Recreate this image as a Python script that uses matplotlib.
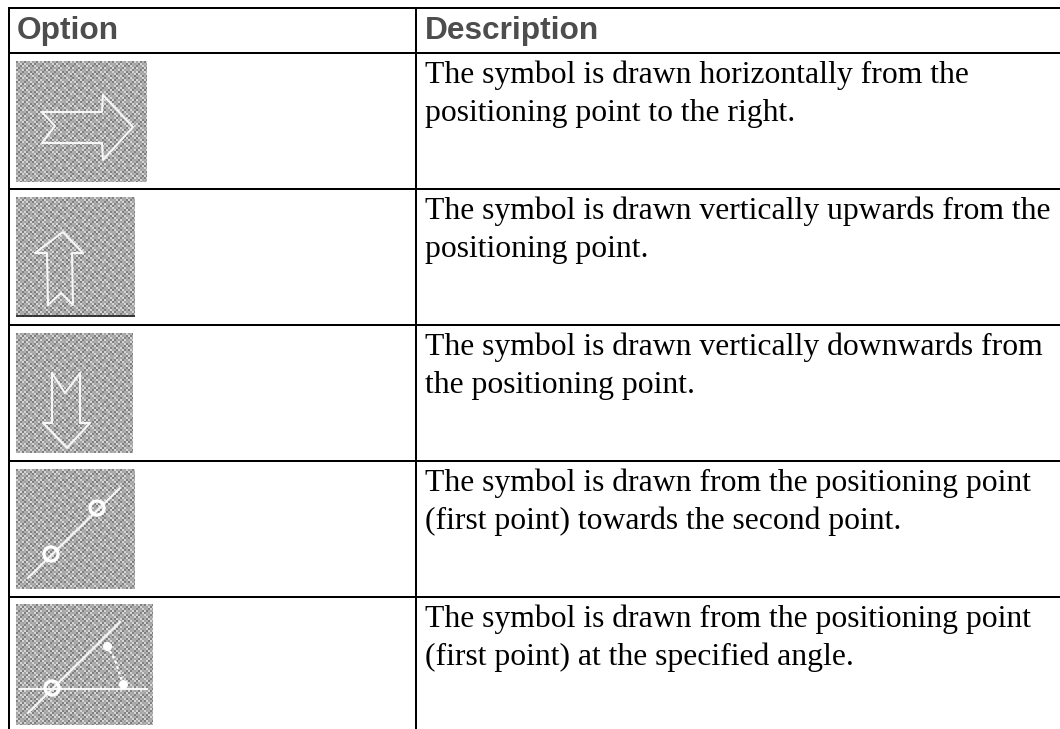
import numpy as np
import matplotlib
matplotlib.use("Agg")
import matplotlib.pyplot as plt

# Constants
W, H = 1060, 729
LINE_W = 2.0 * 72 / 100
HEADER_GREY = "#4d4d4d"
FONT_SIZE = 22.8

# Table contents
headers = ["Option", "Description"]
descriptions = [
    ["The symbol is drawn horizontally from the", "positioning point to the right."],
    ["The symbol is drawn vertically upwards from the", "positioning point."],
    ["The symbol is drawn vertically downwards from", "the positioning point."],
    ["The symbol is drawn from the positioning point", "(first point) towards the second point."],
    ["The symbol is drawn from the positioning point", "(first point) at the specified angle."],
]

# Rules, in image pixels
row_lines = [8, 53, 189, 325, 461, 597]
left_x = 9
mid_x = 416

# Icon boxes: left, top, right, bottom
icon_boxes = [
    (16, 61, 147, 182),
    (16, 197, 135, 317),
    (16, 333, 133, 453),
    (16, 469, 135, 589),
    (16, 604, 153, 725),
]

# Icon strokes, in image pixels
arrow_right = [[(42, 112), (102, 112), (103, 95), (133, 127), (103, 160), (102, 143), (42, 143), (55, 126), (42, 112)]]
arrow_up = [[(48, 305), (47, 253), (35, 253), (63, 232), (83, 253), (72, 253), (73, 305), (61, 293), (48, 305)]]
arrow_down = [[(52, 373), (52, 423), (43, 423), (67, 448), (90, 423), (80, 423), (80, 373), (65, 393), (52, 373)]]
line_two = [[(28, 578), (120, 488)]]
angle_lines = [[(20, 689), (147, 689)], [(28, 713), (120, 622)]]
icon_strokes = [arrow_right, arrow_up, arrow_down, line_two, angle_lines]

# Dotted arc of the angle symbol and its end dots
angle_arc = [(107, 646), (115, 660), (123, 684)]
angle_dots = [(107, 646), (123, 684)]

# Small rings on the symbols: x, y, radius
icon_rings = [
    [], [], [],
    [(51, 554, 7), (97, 508, 7)],
    [(52, 688, 7)],
]

fig = plt.figure(figsize=(W / 100, H / 100), dpi=100, facecolor="white")
ax = fig.add_axes([0, 0, 1, 1])

# Dither texture for the icon background
for x0, y0, x1, y1 in icon_boxes:
    w, h = x1 - x0, y1 - y0
    yy, xx = np.mgrid[0:h, 0:w]
    check = ((xx // 2 + yy // 2) % 2) * 2 - 1
    mottle = (((xx // 2 * 73 ^ yy // 2 * 193) * 37 >> 3) & 1) * 2 - 1
    tex = 0.67 + 0.10 * check + 0.07 * mottle
    ax.imshow(tex, cmap="gray", vmin=0, vmax=1, extent=(x0, x1, y1, y0),
              interpolation="bilinear", zorder=1, aspect="auto")
ax.set_xlim(0, W)
ax.set_ylim(H, 0)
ax.axis("off")

# Dark edge under the upward arrow icon
ax.plot([16, 135], [316, 316], color="#222222", lw=1.2, zorder=2, solid_capstyle="butt")

for strokes in icon_strokes:
    for stroke in strokes:
        xs = [p[0] for p in stroke]
        ys = [p[1] for p in stroke]
        ax.plot(xs, ys, color="#f6f6f6", lw=1.5, zorder=2)

ax.plot([p[0] for p in angle_arc], [p[1] for p in angle_arc], color="white", lw=1.7,
        ls=(0, (1.2, 1.2)), zorder=2)
ax.scatter([p[0] for p in angle_dots], [p[1] for p in angle_dots], s=30, color="white", zorder=3)

for rings in icon_rings:
    for cx, cy, r in rings:
        ax.add_patch(plt.Circle((cx, cy), r, fill=False, ec="white", lw=2.4, zorder=3))

# Table rules
for y in row_lines:
    ax.plot([left_x - 1, W], [y, y], color="black", lw=LINE_W, zorder=4, solid_capstyle="butt")
ax.plot([left_x, left_x], [7, H], color="black", lw=LINE_W, zorder=4, solid_capstyle="butt")
ax.plot([mid_x, mid_x], [7, H], color="black", lw=LINE_W, zorder=4, solid_capstyle="butt")

# Header text
ax.text(17, 39, headers[0], family="Liberation Sans", weight="bold", fontsize=FONT_SIZE,
        color=HEADER_GREY, va="baseline", ha="left")
ax.text(425, 39, headers[1], family="Liberation Sans", weight="bold", fontsize=FONT_SIZE,
        color=HEADER_GREY, va="baseline", ha="left")

# Description text
for top, lines in zip(row_lines[1:], descriptions):
    ax.text(425, top + 30, lines[0], family="Liberation Serif", fontsize=FONT_SIZE, color="black",
            va="baseline", ha="left")
    ax.text(425, top + 68, lines[1], family="Liberation Serif", fontsize=FONT_SIZE, color="black",
            va="baseline", ha="left")

fig.savefig("out.png", dpi=100)
plt.close(fig)
